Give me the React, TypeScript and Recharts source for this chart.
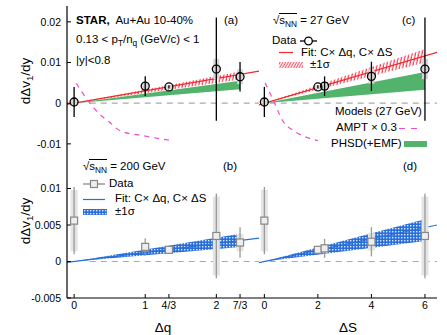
import React from 'react';
import { ComposedChart, Line, Area, Scatter, ErrorBar, XAxis, YAxis, ReferenceLine } from 'recharts';

const FONT = '"Liberation Sans", Arial, Helvetica, sans-serif';

// axis ticks
const dqTicks = [0, 1, 4 / 3, 2, 7 / 3];
const dqTickLabels = ['0', '1', '4/3', '2', '7/3'];
const dsTicks = [0, 2, 4, 6];
const topYTicks = [-0.01, 0, 0.01, 0.02];
const botYTicks = [-0.005, 0, 0.005, 0.01];

// (a) 27 GeV vs dq
const dqA = [0, 1, 4 / 3, 2, 7 / 3];
const vA = [0.0003, 0.0042, 0.004, 0.0084, 0.0065];
const statA = [0.0037, 0.0024, 0.0004, 0.0127, 0.0036];
const sysA = [0.0008, 0.0008, 0.0005, 0.0025, 0.0018];

// (c) 27 GeV vs dS
const dsC = [0, 2, 2.25, 4, 6];
const vC = [0.0003, 0.004, 0.0042, 0.0066, 0.0084];
const statC = [0.0037, 0.0004, 0.0024, 0.0036, 0.0127];
const sysC = [0.0008, 0.0005, 0.0008, 0.0018, 0.0025];

// (b) 200 GeV vs dq
const dqB = [0, 1, 4 / 3, 2, 7 / 3];
const vB = [0.0056, 0.002, 0.0016, 0.0035, 0.0026];
const statB = [0.0046, 0.0012, 0.0003, 0.0058, 0.0021];
const sysB = [0.0042, 0.0006, 0.0003, 0.0054, 0.0012];

// (d) 200 GeV vs dS
const dsD = [0, 2, 2.25, 4, 6];
const vD = [0.0056, 0.0016, 0.0018, 0.0027, 0.0035];
const statD = [0.0046, 0.0003, 0.0013, 0.002, 0.0058];
const sysD = [0.0042, 0.0003, 0.0006, 0.0012, 0.0054];

// fit lines (end points)
const fitAx = [-0.1, 2.6];
const fitAy = [-0.0003, 0.0079];
const fitCx = [-0.2, 6.45];
const fitCy = [-0.0004, 0.0125];
const fitBx = [-0.1, 2.6];
const fitBy = [-0.00012, 0.0032];
const fitDx = [-0.2, 6.45];
const fitDy = [-0.00015, 0.005];

// +-1 sigma bands
const sigAx = [0, 7 / 3];
const sigAlo = [0, 0.0058];
const sigAhi = [0, 0.0078];
const sigCx = [0, 6];
const sigClo = [0, 0.01];
const sigChi = [0, 0.0133];
const sigBx = [0, 7 / 3];
const sigBlo = [0, 0.002];
const sigBhi = [0, 0.0038];
const sigDx = [0, 6];
const sigDlo = [0, 0.0028];
const sigDhi = [0, 0.0058];

// PHSD(+EMF) bands
const phsdAx = [0, 7 / 3];
const phsdAlo = [0, 0.0034];
const phsdAhi = [0, 0.0055];
const phsdCx = [0, 6];
const phsdClo = [0, 0.0033];
const phsdChi = [0, 0.0077];

// AMPT x 0.3
const amptAx = [0.03, 0.2, 0.36, 0.5, 0.65, 0.97, 1.34];
const amptAy = [0.0049, 0.0005, -0.0027, -0.0047, -0.0068, -0.008, -0.0091];
const amptCx = [0.03, 0.35, 0.7, 1.1, 1.5, 2.0];
const amptCy = [0.005, 0.0005, -0.0045, -0.0068, -0.0082, -0.0092];

const pts = (xs: number[], ys: number[], st: number[], sy: number[]) =>
  xs.map((x, i) => ({ x, y: ys[i], stat: st[i], sys: sy[i] }));
const seg = (xs: number[], ys: number[]) => xs.map((x, i) => ({ x, y: ys[i] }));
const band = (xs: number[], lo: number[], hi: number[]) => xs.map((x, i) => ({ x, lo: lo[i], hi: hi[i] }));

const RED = '#ee2a2a';
const HATCH = '#ff2a44';
const GREEN = '#52b46c';
const PINK = '#ee4fc4';
const BLUE = '#2a6fd8';

const Circle = (p: any) => <circle cx={p.cx} cy={p.cy} r={4} fill="none" stroke="#000" strokeWidth={1.3} />;
const Square = (p: any) => (
  <rect x={p.cx - 3.5} y={p.cy - 3.5} width={7} height={7} fill="#eee" stroke="#888" strokeWidth={1.2} />
);

const dqFmt = (v: number) => {
  const i = dqTicks.findIndex((t) => Math.abs(t - v) < 1e-6);
  return i >= 0 ? dqTickLabels[i] : '';
};

const tickStyle = { fontSize: 10.5, fill: '#000' };
const axisLine = { stroke: '#000', strokeWidth: 1.2 };
const tickLine = { stroke: '#000', strokeWidth: 1 };

const Patterns = () => (
  <defs>
    <pattern id="hatchRed" patternUnits="userSpaceOnUse" width="3.2" height="6" patternTransform="rotate(12)">
      <line x1="1" y1="0" x2="1" y2="6" stroke={HATCH} strokeWidth="1.1" />
    </pattern>
    <pattern id="checkBlue" patternUnits="userSpaceOnUse" width="3" height="3">
      <rect width="3" height="3" fill={BLUE} />
      <rect x="1" y="1" width="1.4" height="1.4" fill="#dde8ff" />
    </pattern>
  </defs>
);

type PanelProps = {
  left: number;
  top: number;
  width: number;
  height: number;
  margin: any;
  yWidth: number;
  xHeight: number;
  xDomain: number[];
  xTicks: number[];
  xFmt?: (v: number) => string;
  yDomain: number[];
  yTicks: number[];
  children: React.ReactNode;
};

const Panel = (p: PanelProps) => (
  <div style={{ position: 'absolute', left: p.left, top: p.top }}>
    <ComposedChart width={p.width} height={p.height} margin={p.margin}>
      <Patterns />
      <XAxis
        dataKey="x"
        type="number"
        domain={p.xDomain}
        ticks={p.xTicks}
        allowDataOverflow
        height={p.xHeight}
        tickSize={-4}
        tickMargin={8}
        tick={p.xHeight > 0 ? tickStyle : false}
        tickFormatter={p.xFmt}
        axisLine={axisLine}
        tickLine={tickLine}
        interval={0}
      />
      <XAxis
        xAxisId="top"
        orientation="top"
        type="number"
        domain={p.xDomain}
        ticks={p.xTicks}
        allowDataOverflow
        height={0}
        tickSize={-4}
        tick={false}
        axisLine={axisLine}
        tickLine={tickLine}
        interval={0}
      />
      <YAxis
        dataKey="y"
        type="number"
        domain={p.yDomain}
        ticks={p.yTicks}
        allowDataOverflow
        width={p.yWidth}
        tickSize={-4}
        tickMargin={10}
        tick={p.yWidth > 0 ? tickStyle : false}
        axisLine={axisLine}
        tickLine={tickLine}
        interval={0}
      />
      <YAxis
        yAxisId="right"
        orientation="right"
        type="number"
        domain={p.yDomain}
        ticks={p.yTicks}
        allowDataOverflow
        width={0}
        tickSize={-4}
        tick={false}
        axisLine={axisLine}
        tickLine={tickLine}
        interval={0}
      />
      {p.children}
    </ComposedChart>
  </div>
);

const zeroLine = (x0: number, x1: number) => (
  <ReferenceLine
    segment={[{ x: x0, y: 0 }, { x: x1, y: 0 }]}
    stroke="#aaa"
    strokeWidth={1.2}
    strokeDasharray="6 5"
    ifOverflow="hidden"
  />
);

const rangeKey = (d: any) => [d.lo, d.hi];

const T = ({ x, y, size = 11.5, bold = false, children }: any) => (
  <div
    style={{
      position: 'absolute',
      left: x,
      top: y - size * 0.62,
      fontSize: size,
      lineHeight: `${size * 1.2}px`,
      fontWeight: bold ? 'bold' : 'normal',
      whiteSpace: 'nowrap',
      color: '#000',
    }}
  >
    {children}
  </div>
);

const Sub = ({ children }: any) => (
  <sub style={{ fontSize: '0.72em', verticalAlign: '-0.35em', lineHeight: 0 }}>{children}</sub>
);

const SNN = () => (
  <span>
    √<span style={{ borderTop: '1px solid #000', paddingTop: 0 }}>s<Sub>NN</Sub></span>
  </span>
);

const Swatch = ({ x, y, w, h, children }: any) => (
  <svg style={{ position: 'absolute', left: x, top: y }} width={w} height={h}>
    {children}
  </svg>
);

export default function App() {
  return (
    <div
      style={{
        position: 'absolute',
        left: 0,
        top: 0,
        width: 447,
        height: 335,
        background: '#fff',
        fontFamily: FONT,
        overflow: 'hidden',
      }}
    >
      {/* (a) */}
      <Panel
        left={0}
        top={0}
        width={262}
        height={155}
        margin={{ top: 6, right: 3, bottom: 3, left: 0 }}
        yWidth={67}
        xHeight={0}
        xDomain={[-0.1, 2.6]}
        xTicks={dqTicks}
        yDomain={[-0.012, 0.0239]}
        yTicks={topYTicks}
      >
        {zeroLine(0.22, 2.6)}
        <Area data={band(sigAx, sigAlo, sigAhi)} dataKey={rangeKey} type="linear" stroke="none" fill="url(#hatchRed)" fillOpacity={1} isAnimationActive={false} />
        <Area data={band(phsdAx, phsdAlo, phsdAhi)} dataKey={rangeKey} type="linear" stroke="none" fill={GREEN} fillOpacity={1} isAnimationActive={false} />
        <Line data={seg(fitAx, fitAy)} dataKey="y" type="linear" stroke={RED} strokeWidth={1.2} dot={false} isAnimationActive={false} />
        <Line data={seg(amptAx, amptAy)} dataKey="y" type="monotone" stroke={PINK} strokeWidth={1.2} strokeDasharray="5 5" dot={false} isAnimationActive={false} />
        <Scatter data={pts(dqA, vA, statA, sysA)} shape={Circle} isAnimationActive={false}>
          <ErrorBar dataKey="sys" direction="y" width={0} stroke="#d6d6d6" strokeWidth={6} isAnimationActive={false} />
          <ErrorBar dataKey="stat" direction="y" width={0} stroke="#000" strokeWidth={1.3} isAnimationActive={false} />
        </Scatter>
      </Panel>

      {/* (c) */}
      <Panel
        left={259}
        top={0}
        width={181}
        height={155}
        margin={{ top: 6, right: 3, bottom: 3, left: 0 }}
        yWidth={0}
        xHeight={0}
        xDomain={[-0.2, 6.45]}
        xTicks={dsTicks}
        yDomain={[-0.012, 0.0239]}
        yTicks={topYTicks}
      >
        {zeroLine(0.2, 6.45)}
        <Area data={band(sigCx, sigClo, sigChi)} dataKey={rangeKey} type="linear" stroke="none" fill="url(#hatchRed)" fillOpacity={1} isAnimationActive={false} />
        <Area data={band(phsdCx, phsdClo, phsdChi)} dataKey={rangeKey} type="linear" stroke="none" fill={GREEN} fillOpacity={1} isAnimationActive={false} />
        <Line data={seg(fitCx, fitCy)} dataKey="y" type="linear" stroke={RED} strokeWidth={1.2} dot={false} isAnimationActive={false} />
        <Line data={seg(amptCx, amptCy)} dataKey="y" type="monotone" stroke={PINK} strokeWidth={1.2} strokeDasharray="5 5" dot={false} isAnimationActive={false} />
        <Scatter data={pts(dsC, vC, statC, sysC)} shape={Circle} isAnimationActive={false}>
          <ErrorBar dataKey="sys" direction="y" width={0} stroke="#d6d6d6" strokeWidth={6} isAnimationActive={false} />
          <ErrorBar dataKey="stat" direction="y" width={0} stroke="#000" strokeWidth={1.3} isAnimationActive={false} />
        </Scatter>
      </Panel>

      {/* (b) */}
      <Panel
        left={0}
        top={146}
        width={262}
        height={189}
        margin={{ top: 6, right: 3, bottom: 0, left: 0 }}
        yWidth={67}
        xHeight={37}
        xDomain={[-0.1, 2.6]}
        xTicks={dqTicks}
        xFmt={dqFmt}
        yDomain={[-0.005, 0.015]}
        yTicks={botYTicks}
      >
        {zeroLine(0.22, 2.6)}
        <Area data={band(sigBx, sigBlo, sigBhi)} dataKey={rangeKey} type="linear" stroke="none" fill="url(#checkBlue)" fillOpacity={1} isAnimationActive={false} />
        <Line data={seg(fitBx, fitBy)} dataKey="y" type="linear" stroke={BLUE} strokeWidth={1.2} dot={false} isAnimationActive={false} />
        <Scatter data={pts(dqB, vB, statB, sysB)} shape={Square} isAnimationActive={false}>
          <ErrorBar dataKey="sys" direction="y" width={0} stroke="#e4e4e4" strokeWidth={7} isAnimationActive={false} />
          <ErrorBar dataKey="stat" direction="y" width={0} stroke="#999" strokeWidth={1.3} isAnimationActive={false} />
        </Scatter>
      </Panel>

      {/* (d) */}
      <Panel
        left={259}
        top={146}
        width={181}
        height={189}
        margin={{ top: 6, right: 3, bottom: 0, left: 0 }}
        yWidth={0}
        xHeight={37}
        xDomain={[-0.2, 6.45]}
        xTicks={dsTicks}
        yDomain={[-0.005, 0.015]}
        yTicks={botYTicks}
      >
        {zeroLine(0.2, 6.45)}
        <Area data={band(sigDx, sigDlo, sigDhi)} dataKey={rangeKey} type="linear" stroke="none" fill="url(#checkBlue)" fillOpacity={1} isAnimationActive={false} />
        <Line data={seg(fitDx, fitDy)} dataKey="y" type="linear" stroke={BLUE} strokeWidth={1.2} dot={false} isAnimationActive={false} />
        <Scatter data={pts(dsD, vD, statD, sysD)} shape={Square} isAnimationActive={false}>
          <ErrorBar dataKey="sys" direction="y" width={0} stroke="#e4e4e4" strokeWidth={7} isAnimationActive={false} />
          <ErrorBar dataKey="stat" direction="y" width={0} stroke="#999" strokeWidth={1.3} isAnimationActive={false} />
        </Scatter>
      </Panel>

      {/* axis titles */}
      {[81, 221].map((cy) => (
        <div
          key={cy}
          style={{
            position: 'absolute',
            left: 25,
            top: cy,
            transform: 'translate(-50%, -50%) rotate(-90deg)',
            fontSize: 13.5,
            whiteSpace: 'nowrap',
          }}
        >
          dΔv<Sub>1</Sub>/dy
        </div>
      ))}
      <div style={{ position: 'absolute', left: 163, top: 327, transform: 'translate(-50%, -50%)', fontSize: 13.5 }}>Δq</div>
      <div style={{ position: 'absolute', left: 348, top: 327, transform: 'translate(-50%, -50%)', fontSize: 13.5 }}>ΔS</div>

      {/* (a) labels */}
      <T x={76} y={21}>
        <b>STAR,</b>&nbsp; Au+Au 10-40%
      </T>
      <T x={76} y={40}>
        0.13 &lt; p<Sub>T</Sub>/n<Sub>q</Sub> (GeV/c) &lt; 1
      </T>
      <T x={76} y={61}>|y|&lt;0.8</T>
      <T x={224} y={21}>(a)</T>

      {/* (c) labels and legend */}
      <T x={273} y={21}>
        <SNN /> = 27 GeV
      </T>
      <T x={402} y={21}>(c)</T>
      <T x={272} y={41}>Data</T>
      <Swatch x={300} y={35} w={17} h={12}>
        <line x1={0} y1={6} x2={17} y2={6} stroke="#000" strokeWidth={1.3} />
        <circle cx={8.5} cy={6} r={3.8} fill="#fff" stroke="#000" strokeWidth={1.3} />
      </Swatch>
      <Swatch x={279} y={50} w={14} h={5}>
        <line x1={0} y1={2.5} x2={14} y2={2.5} stroke={RED} strokeWidth={1.2} />
      </Swatch>
      <T x={301} y={53}>Fit: C× Δq, C× ΔS</T>
      <Swatch x={279} y={62} w={24} h={6}>
        <defs>
          <pattern id="hatchLeg" patternUnits="userSpaceOnUse" width="2.4" height="6" patternTransform="rotate(30)">
            <line x1="1" y1="0" x2="1" y2="6" stroke={HATCH} strokeWidth="0.9" />
          </pattern>
        </defs>
        <rect width={24} height={6} fill="url(#hatchLeg)" />
      </Swatch>
      <T x={310} y={65.5}>±1σ</T>
      <T x={335} y={112}>Models (27 GeV)</T>
      <T x={336} y={128.5}>AMPT × 0.3</T>
      <Swatch x={399} y={126} w={24} h={5}>
        <line x1={0} y1={2.5} x2={24} y2={2.5} stroke={PINK} strokeWidth={1.2} strokeDasharray="6 6" />
      </Swatch>
      <T x={331} y={144}>PHSD(+EMF)</T>
      <Swatch x={404} y={141} w={23} h={6}>
        <rect width={23} height={6} fill={GREEN} />
      </Swatch>

      {/* (b) labels and legend */}
      <T x={83} y={167}>
        <SNN /> = 200 GeV
      </T>
      <T x={223} y={167}>(b)</T>
      <Swatch x={83} y={178} w={22} h={12}>
        <line x1={0} y1={6} x2={22} y2={6} stroke="#888" strokeWidth={1.3} />
        <rect x={7.5} y={2.5} width={7} height={7} fill="#eee" stroke="#888" strokeWidth={1.2} />
      </Swatch>
      <T x={109} y={184}>Data</T>
      <Swatch x={83} y={197} w={22} h={5}>
        <line x1={0} y1={2.5} x2={22} y2={2.5} stroke={BLUE} strokeWidth={1.2} />
      </Swatch>
      <T x={115} y={199.5}>Fit: C× Δq, C× ΔS</T>
      <Swatch x={83} y={209} w={24} h={6}>
        <defs>
          <pattern id="checkLeg" patternUnits="userSpaceOnUse" width="3" height="3">
            <rect width="3" height="3" fill={BLUE} />
            <rect x="1" y="1" width="1.4" height="1.4" fill="#dde8ff" />
          </pattern>
        </defs>
        <rect width={24} height={6} fill="url(#checkLeg)" />
      </Swatch>
      <T x={115} y={212}>±1σ</T>

      {/* (d) */}
      <T x={403} y={167.5}>(d)</T>
    </div>
  );
}
